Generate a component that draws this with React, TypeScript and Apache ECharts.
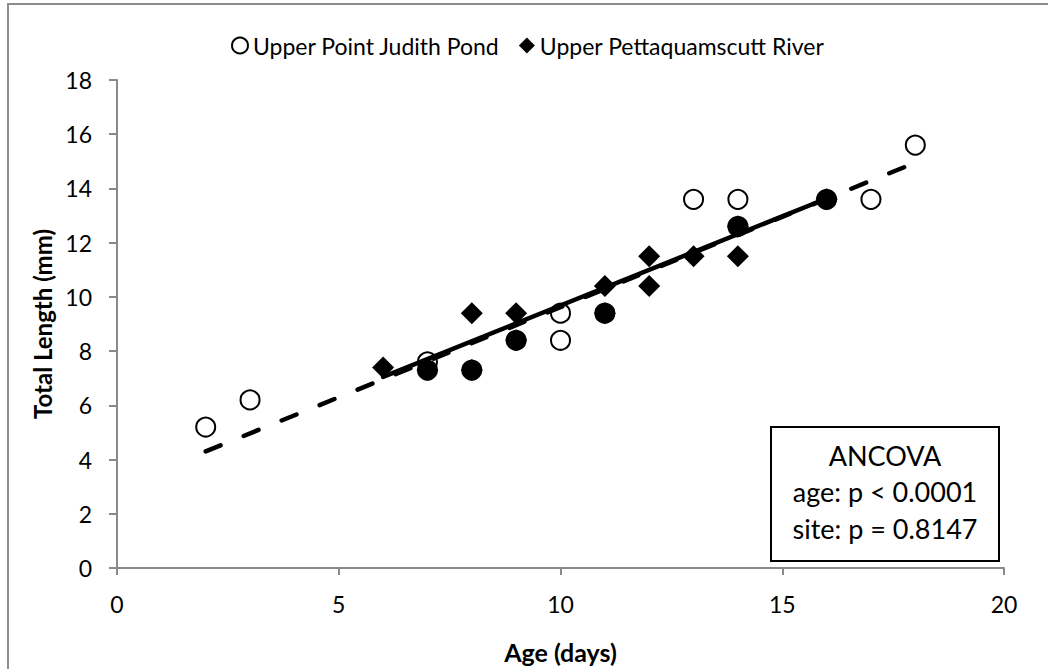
import React, { useEffect, useRef } from "react";
import * as echarts from "echarts";

const pondName = "Upper Point Judith Pond";
const riverName = "Upper Pettaquamscutt River";

// [age (days), total length (mm)]
const pondPoints: number[][] = [
  [2, 5.2], [3, 6.2], [7, 7.6], [7, 7.3], [8, 7.3], [9, 8.4], [10, 9.4], [10, 8.4],
  [11, 9.4], [13, 13.6], [14, 13.6], [14, 12.6], [16, 13.6], [17, 13.6], [18, 15.6],
];
const riverPoints: number[][] = [
  [6, 7.4], [7, 7.3], [8, 9.4], [8, 7.3], [9, 9.4], [9, 8.4], [11, 10.4], [11, 9.4],
  [12, 11.5], [12, 10.4], [13, 11.5], [14, 12.6], [14, 11.5], [16, 13.6],
];
// trend line end points
const pondTrend: number[][] = [[2, 4.3], [18, 14.95]];
const riverTrend: number[][] = [[6, 7.05], [16, 13.63]];

const xTicks = { min: 0, max: 20, interval: 5 };
const yTicks = { min: 0, max: 18, interval: 2 };
const annotationLines = ["ANCOVA", "age: p < 0.0001", "site: p = 0.8147"];

const FONT = "Lato, 'Open Sans', sans-serif";

export default function App() {
  const ref = useRef<HTMLDivElement>(null);
  useEffect(() => {
    if (!ref.current) return;
    const chart = echarts.init(ref.current, null, { renderer: "svg" });
    const overlap = (p: number[]) => riverPoints.some((q) => q[0] === p[0] && q[1] === p[1]);
    const pondData = pondPoints.map((p) =>
      overlap(p) ? { value: p, itemStyle: { color: "#000" } } : { value: p }
    );
    const axisGray = "#8a8a8a";
    chart.setOption({
      animation: false,
      backgroundColor: "#fff",
      textStyle: { fontFamily: FONT },
      grid: { left: 117, right: 44, top: 80, bottom: 99 },
      legend: {
        left: 226,
        top: 29,
        itemWidth: 16,
        itemHeight: 16,
        itemGap: 19,
        textStyle: { fontFamily: FONT, fontSize: 23, color: "#000" },
        data: [pondName, riverName],
      },
      xAxis: {
        type: "value",
        min: xTicks.min,
        max: xTicks.max,
        interval: xTicks.interval,
        name: "Age (days)",
        nameLocation: "middle",
        nameGap: 71,
        nameTextStyle: { fontFamily: FONT, fontSize: 25, fontWeight: "bold", color: "#000" },
        axisLine: { lineStyle: { color: axisGray, width: 2 } },
        axisTick: { show: true, length: 7, lineStyle: { color: axisGray, width: 2 } },
        axisLabel: { fontFamily: FONT, fontSize: 23, color: "#000", margin: 24 },
        splitLine: { show: false },
      },
      yAxis: {
        type: "value",
        min: yTicks.min,
        max: yTicks.max,
        interval: yTicks.interval,
        name: "Total Length (mm)",
        nameLocation: "middle",
        nameGap: 63,
        nameRotate: 90,
        nameTextStyle: { fontFamily: FONT, fontSize: 24, fontWeight: "bold", color: "#000" },
        axisLine: { show: true, lineStyle: { color: axisGray, width: 2 } },
        axisTick: { show: true, length: 8, lineStyle: { color: axisGray, width: 2 } },
        axisLabel: { fontFamily: FONT, fontSize: 23, color: "#000", margin: 25 },
        splitLine: { show: false },
      },
      series: [
        {
          name: riverName,
          type: "scatter",
          symbol: "diamond",
          symbolSize: [22, 22],
          itemStyle: { color: "#000", opacity: 1 },
          data: riverPoints,
          z: 3,
        },
        {
          name: pondName,
          type: "scatter",
          symbol: "circle",
          symbolSize: 19,
          itemStyle: { color: "#fff", borderColor: "#000", borderWidth: 2, opacity: 1 },
          data: pondData,
          z: 4,
        },
        {
          name: "riverTrend",
          type: "line",
          data: riverTrend,
          showSymbol: false,
          symbol: "none",
          lineStyle: { color: "#000", width: 4.5, cap: "round" },
          z: 5,
        },
        {
          name: "pondTrend",
          type: "line",
          data: pondTrend,
          showSymbol: false,
          symbol: "none",
          lineStyle: { color: "#000", width: 4.5, type: [16, 25], cap: "round" },
          z: 6,
        },
      ],
      graphic: [
        {
          type: "rect",
          shape: { x: 8, y: 4, width: 1200, height: 800 },
          style: { fill: "none", stroke: "#8c8c8c", lineWidth: 2 },
          silent: true,
          z: 0,
        },
        {
          type: "group",
          z: 100,
          children: [
            {
              type: "rect",
              shape: { x: 771, y: 427, width: 228, height: 134 },
              style: { fill: "#fff", stroke: "#000", lineWidth: 2 },
            },
            ...annotationLines.map((t, i) => ({
              type: "text",
              x: 885,
              y: 455 + i * 36.5,
              style: {
                text: t,
                fill: "#000",
                font: `27px ${FONT}`,
                align: "center",
                verticalAlign: "middle",
              },
            })),
          ],
        },
      ],
    });
    return () => chart.dispose();
  }, []);
  return (
    <div
      ref={ref}
      style={{ position: "absolute", left: 0, top: 0, width: 1048, height: 669 }}
    />
  );
}
